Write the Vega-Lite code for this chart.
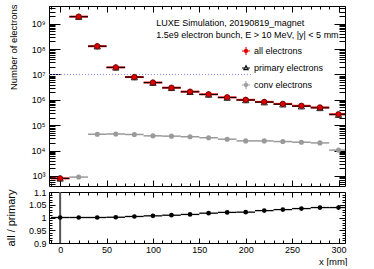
{
  "$schema": "https://vega.github.io/schema/vega-lite/v6.json",
  "background": "white",
  "padding": {"left": 4, "top": 3, "right": 5, "bottom": 0},
  "spacing": 0,
  "config": {
    "font": "Liberation Sans",
    "view": {"stroke": "black", "strokeWidth": 1},
    "axis": {"grid": false, "domain": false, "labelFont": "Liberation Sans", "labelFontSize": 9, "labelColor": "black", "tickColor": "black", "tickWidth": 1, "titleFont": "Liberation Sans", "titleFontWeight": "normal", "titleColor": "black", "labelFlush": false, "labelOverlap": false},
    "legend": {"labelFont": "Liberation Sans", "labelFontSize": 9, "labelColor": "black"}
  },
  "datasets": {
    "pts": [
      {"series": "conv electrons", "x": 20, "x0": 10, "x1": 30, "n": 900},
      {"series": "conv electrons", "x": 40, "x0": 30, "x1": 50, "n": 44000},
      {"series": "conv electrons", "x": 60, "x0": 50, "x1": 70, "n": 45000},
      {"series": "conv electrons", "x": 80, "x0": 70, "x1": 90, "n": 43000},
      {"series": "conv electrons", "x": 100, "x0": 90, "x1": 110, "n": 38000},
      {"series": "conv electrons", "x": 120, "x0": 110, "x1": 130, "n": 37000},
      {"series": "conv electrons", "x": 140, "x0": 130, "x1": 150, "n": 35000},
      {"series": "conv electrons", "x": 160, "x0": 150, "x1": 170, "n": 32000},
      {"series": "conv electrons", "x": 180, "x0": 170, "x1": 190, "n": 28000},
      {"series": "conv electrons", "x": 200, "x0": 190, "x1": 210, "n": 24000},
      {"series": "conv electrons", "x": 220, "x0": 210, "x1": 230, "n": 24000},
      {"series": "conv electrons", "x": 240, "x0": 230, "x1": 250, "n": 22600},
      {"series": "conv electrons", "x": 260, "x0": 250, "x1": 270, "n": 21300},
      {"series": "conv electrons", "x": 280, "x0": 270, "x1": 290, "n": 20000},
      {"series": "conv electrons", "x": 300, "x0": 290, "x1": 310, "n": 10400},
      {"series": "primary electrons", "x": 0, "x0": -10, "x1": 10, "n": 800},
      {"series": "primary electrons", "x": 20, "x0": 10, "x1": 30, "n": 1900000000},
      {"series": "primary electrons", "x": 40, "x0": 30, "x1": 50, "n": 130000000},
      {"series": "primary electrons", "x": 60, "x0": 50, "x1": 70, "n": 19000000},
      {"series": "primary electrons", "x": 80, "x0": 70, "x1": 90, "n": 7870000},
      {"series": "primary electrons", "x": 100, "x0": 90, "x1": 110, "n": 4770000},
      {"series": "primary electrons", "x": 120, "x0": 110, "x1": 130, "n": 2970000},
      {"series": "primary electrons", "x": 140, "x0": 130, "x1": 150, "n": 2070000},
      {"series": "primary electrons", "x": 160, "x0": 150, "x1": 170, "n": 1620000},
      {"series": "primary electrons", "x": 180, "x0": 170, "x1": 190, "n": 1230000},
      {"series": "primary electrons", "x": 200, "x0": 190, "x1": 210, "n": 980000},
      {"series": "primary electrons", "x": 220, "x0": 210, "x1": 230, "n": 810000},
      {"series": "primary electrons", "x": 240, "x0": 230, "x1": 250, "n": 670000},
      {"series": "primary electrons", "x": 260, "x0": 250, "x1": 270, "n": 560000},
      {"series": "primary electrons", "x": 280, "x0": 270, "x1": 290, "n": 480000},
      {"series": "primary electrons", "x": 300, "x0": 290, "x1": 310, "n": 260000},
      {"series": "all electrons", "x": 0, "x0": -10, "x1": 10, "n": 800},
      {"series": "all electrons", "x": 20, "x0": 10, "x1": 30, "n": 1900000000},
      {"series": "all electrons", "x": 40, "x0": 30, "x1": 50, "n": 130000000},
      {"series": "all electrons", "x": 60, "x0": 50, "x1": 70, "n": 19000000},
      {"series": "all electrons", "x": 80, "x0": 70, "x1": 90, "n": 7900000},
      {"series": "all electrons", "x": 100, "x0": 90, "x1": 110, "n": 4800000},
      {"series": "all electrons", "x": 120, "x0": 110, "x1": 130, "n": 3000000},
      {"series": "all electrons", "x": 140, "x0": 130, "x1": 150, "n": 2100000},
      {"series": "all electrons", "x": 160, "x0": 150, "x1": 170, "n": 1650000},
      {"series": "all electrons", "x": 180, "x0": 170, "x1": 190, "n": 1250000},
      {"series": "all electrons", "x": 200, "x0": 190, "x1": 210, "n": 1000000},
      {"series": "all electrons", "x": 220, "x0": 210, "x1": 230, "n": 830000},
      {"series": "all electrons", "x": 240, "x0": 230, "x1": 250, "n": 690000},
      {"series": "all electrons", "x": 260, "x0": 250, "x1": 270, "n": 580000},
      {"series": "all electrons", "x": 280, "x0": 270, "x1": 290, "n": 500000},
      {"series": "all electrons", "x": 300, "x0": 290, "x1": 310, "n": 270000}
    ],
    "ratio": [
      {"x": 0, "x0": -10, "x1": 10, "r": 1.0, "lo": 0.5, "hi": 1.5},
      {"x": 20, "x0": 10, "x1": 30, "r": 1.0, "lo": 1.0, "hi": 1.0},
      {"x": 40, "x0": 30, "x1": 50, "r": 1.0, "lo": 0.999, "hi": 1.001},
      {"x": 60, "x0": 50, "x1": 70, "r": 1.001, "lo": 1.0, "hi": 1.002},
      {"x": 80, "x0": 70, "x1": 90, "r": 1.004, "lo": 1.003, "hi": 1.005},
      {"x": 100, "x0": 90, "x1": 110, "r": 1.0065, "lo": 1.005, "hi": 1.008},
      {"x": 120, "x0": 110, "x1": 130, "r": 1.009, "lo": 1.007, "hi": 1.011},
      {"x": 140, "x0": 130, "x1": 150, "r": 1.012, "lo": 1.01, "hi": 1.014},
      {"x": 160, "x0": 150, "x1": 170, "r": 1.017, "lo": 1.015, "hi": 1.019},
      {"x": 180, "x0": 170, "x1": 190, "r": 1.02, "lo": 1.018, "hi": 1.022},
      {"x": 200, "x0": 190, "x1": 210, "r": 1.021, "lo": 1.018, "hi": 1.024},
      {"x": 220, "x0": 210, "x1": 230, "r": 1.027, "lo": 1.024, "hi": 1.03},
      {"x": 240, "x0": 230, "x1": 250, "r": 1.031, "lo": 1.027, "hi": 1.035},
      {"x": 260, "x0": 250, "x1": 270, "r": 1.035, "lo": 1.03, "hi": 1.04},
      {"x": 280, "x0": 270, "x1": 290, "r": 1.039, "lo": 1.032, "hi": 1.046},
      {"x": 300, "x0": 290, "x1": 310, "r": 1.039, "lo": 1.03, "hi": 1.048}
    ]
  },
  "vconcat": [
    {
      "width": 296,
      "height": 180,
      "resolve": {"axis": {"x": "independent", "y": "independent"}},
      "layer": [
        {
          "data": {"values": [{}]},
          "mark": {"type": "rule", "stroke": "#8c8cf0", "strokeDash": [1, 2], "strokeWidth": 1},
          "encoding": {
            "x": {"datum": -12, "type": "quantitative", "scale": {"domain": [-12, 307], "nice": false, "zero": false}, "axis": null},
            "x2": {"datum": 206},
            "y": {"datum": 10000000, "type": "quantitative", "scale": {"type": "log", "domain": [400, 5000000000], "nice": false}, "axis": null}
          }
        },
        {
          "data": {"name": "pts"},
          "transform": [{"filter": "datum.series === 'conv electrons'"}],
          "mark": {"type": "rule", "stroke": "#9a9a9a", "strokeWidth": 1.5, "clip": true},
          "encoding": {
            "x": {"field": "x0", "type": "quantitative", "scale": {"domain": [-12, 307], "nice": false, "zero": false},
              "axis": {"orient": "bottom", "values": [0, 50, 100, 150, 200, 250, 300], "labels": false, "tickSize": -6, "title": null}},
            "x2": {"field": "x1"},
            "y": {"field": "n", "type": "quantitative", "scale": {"type": "log", "domain": [400, 5000000000], "nice": false},
              "axis": {"orient": "left", "values": [1000, 10000, 100000, 1000000, 10000000, 100000000, 1000000000], "tickSize": -11, "labelPadding": 15,
                "labelExpr": "'10' + ['⁰','¹','²','³','⁴','⁵','⁶','⁷','⁸','⁹'][round(log(datum.value)/LN10)]",
                "title": "Number of electrons", "titleFontSize": 9.5, "titleX": -36, "titleY": -2, "titleAlign": "right", "titleBaseline": "middle", "titleAngle": -90}}
          }
        },
        {
          "data": {"name": "pts"},
          "transform": [{"filter": "datum.series === 'conv electrons'"}],
          "mark": {"type": "point", "shape": "circle", "filled": true, "fill": "#9a9a9a", "size": 26, "opacity": 1, "clip": true},
          "encoding": {
            "x": {"field": "x", "type": "quantitative", "scale": {"domain": [-12, 307], "nice": false, "zero": false},
              "axis": {"orient": "bottom", "values": [-10, 10, 20, 30, 40, 60, 70, 80, 90, 110, 120, 130, 140, 160, 170, 180, 190, 210, 220, 230, 240, 260, 270, 280, 290], "labels": false, "tickSize": -3, "title": null}},
            "y": {"field": "n", "type": "quantitative", "scale": {"type": "log", "domain": [400, 5000000000], "nice": false},
              "axis": {"orient": "left", "values": [500, 600, 700, 800, 900, 2000, 3000, 4000, 5000, 6000, 7000, 8000, 9000, 20000, 30000, 40000, 50000, 60000, 70000, 80000, 90000, 200000, 300000, 400000, 500000, 600000, 700000, 800000, 900000, 2000000, 3000000, 4000000, 5000000, 6000000, 7000000, 8000000, 9000000, 20000000, 30000000, 40000000, 50000000, 60000000, 70000000, 80000000, 90000000, 200000000, 300000000, 400000000, 500000000, 600000000, 700000000, 800000000, 900000000, 2000000000, 3000000000, 4000000000, 5000000000], "labels": false, "tickSize": -6, "title": null}}
          }
        },
        {
          "data": {"name": "pts"},
          "transform": [{"filter": "datum.series === 'all electrons'"}],
          "mark": {"type": "rule", "stroke": "#e00000", "strokeWidth": 2, "clip": true},
          "encoding": {
            "x": {"field": "x0", "type": "quantitative", "scale": {"domain": [-12, 307], "nice": false, "zero": false}, "axis": null},
            "x2": {"field": "x1"},
            "y": {"field": "n", "type": "quantitative", "scale": {"type": "log", "domain": [400, 5000000000], "nice": false}, "axis": null}
          }
        },
        {
          "data": {"name": "pts"},
          "transform": [{"filter": "datum.series === 'primary electrons'"}],
          "mark": {"type": "rule", "stroke": "black", "strokeWidth": 1, "clip": true},
          "encoding": {
            "x": {"field": "x0", "type": "quantitative", "scale": {"domain": [-12, 307], "nice": false, "zero": false},
              "axis": {"orient": "top", "values": [0, 50, 100, 150, 200, 250, 300], "labels": false, "tickSize": -6, "title": null}},
            "x2": {"field": "x1"},
            "y": {"field": "n", "type": "quantitative", "scale": {"type": "log", "domain": [400, 5000000000], "nice": false},
              "axis": {"orient": "right", "values": [1000, 10000, 100000, 1000000, 10000000, 100000000, 1000000000], "labels": false, "tickSize": -11, "title": null}}
          }
        },
        {
          "data": {"name": "pts"},
          "transform": [{"filter": "datum.series === 'primary electrons'"}],
          "mark": {"type": "point", "shape": "triangle-up", "filled": false, "stroke": "#222222", "strokeWidth": 1, "size": 40, "opacity": 1, "clip": true},
          "encoding": {
            "x": {"field": "x", "type": "quantitative", "scale": {"domain": [-12, 307], "nice": false, "zero": false},
              "axis": {"orient": "top", "values": [-10, 10, 20, 30, 40, 60, 70, 80, 90, 110, 120, 130, 140, 160, 170, 180, 190, 210, 220, 230, 240, 260, 270, 280, 290], "labels": false, "tickSize": -3, "title": null}},
            "y": {"field": "n", "type": "quantitative", "scale": {"type": "log", "domain": [400, 5000000000], "nice": false},
              "axis": {"orient": "right", "values": [500, 600, 700, 800, 900, 2000, 3000, 4000, 5000, 6000, 7000, 8000, 9000, 20000, 30000, 40000, 50000, 60000, 70000, 80000, 90000, 200000, 300000, 400000, 500000, 600000, 700000, 800000, 900000, 2000000, 3000000, 4000000, 5000000, 6000000, 7000000, 8000000, 9000000, 20000000, 30000000, 40000000, 50000000, 60000000, 70000000, 80000000, 90000000, 200000000, 300000000, 400000000, 500000000, 600000000, 700000000, 800000000, 900000000, 2000000000, 3000000000, 4000000000, 5000000000], "labels": false, "tickSize": -6, "title": null}}
          }
        },
        {
          "data": {"name": "pts"},
          "transform": [{"filter": "datum.series === 'all electrons'"}],
          "mark": {"type": "point", "shape": "circle", "filled": true, "fill": "#dd0000", "stroke": "#5a0000", "strokeWidth": 0.8, "size": 30, "opacity": 1, "clip": true},
          "encoding": {
            "x": {"field": "x", "type": "quantitative", "scale": {"domain": [-12, 307], "nice": false, "zero": false}, "axis": null},
            "y": {"field": "n", "type": "quantitative", "scale": {"type": "log", "domain": [400, 5000000000], "nice": false}, "axis": null}
          }
        },
        {
          "data": {"values": [{"t": "LUXE Simulation, 20190819_magnet"}]},
          "mark": {"type": "text", "align": "left", "baseline": "middle", "fontSize": 9, "font": "Liberation Sans", "color": "black", "clip": true},
          "encoding": {
            "x": {"datum": 103.5, "type": "quantitative", "axis": null},
            "y": {"datum": 1070000000, "type": "quantitative", "axis": null},
            "text": {"field": "t"}
          }
        },
        {
          "data": {"values": [{"t": "1.5e9 electron bunch, E > 10 MeV, |y| < 5 mm"}]},
          "mark": {"type": "text", "align": "left", "baseline": "middle", "fontSize": 9, "font": "Liberation Sans", "color": "black", "clip": true},
          "encoding": {
            "x": {"datum": 103.5, "type": "quantitative", "axis": null},
            "y": {"datum": 370000000, "type": "quantitative", "axis": null},
            "text": {"field": "t"}
          }
        },
        {
          "data": {"name": "pts"},
          "transform": [{"filter": "datum.x < -1000"}],
          "mark": {"type": "point", "opacity": 1},
          "encoding": {
            "x": {"field": "x", "type": "quantitative", "axis": null},
            "y": {"field": "n", "type": "quantitative", "axis": null},
            "shape": {"field": "series", "type": "nominal",
              "scale": {"domain": ["all electrons", "primary electrons", "conv electrons"],
                "range": ["M-1,0H1M0,-1V1M-0.4,0A0.4,0.4,0,1,0,0.4,0A0.4,0.4,0,1,0,-0.4,0Z", "M-1,0H1M0,-0.6L0.55,0.4L-0.55,0.4Z", "M-1,0H1M0,-1V1M-0.4,0A0.4,0.4,0,1,0,0.4,0A0.4,0.4,0,1,0,-0.4,0Z"]},
              "legend": {"orient": "none", "legendX": 192, "legendY": 40, "title": null, "padding": 0, "rowPadding": 5, "symbolSize": 64, "symbolStrokeWidth": 1.1, "labelFontSize": 9, "labelOffset": 3, "symbolOpacity": 1}},
            "stroke": {"field": "series", "type": "nominal",
              "scale": {"domain": ["all electrons", "primary electrons", "conv electrons"], "range": ["#e00000", "#111111", "#a0a0a0"]}},
            "fill": {"field": "series", "type": "nominal",
              "scale": {"domain": ["all electrons", "primary electrons", "conv electrons"], "range": ["#e00000", "#ffffff", "#a0a0a0"]}}
          }
        }
      ]
    },
    {
      "width": 296,
      "height": 51,
      "data": {"name": "ratio"},
      "resolve": {"axis": {"x": "independent", "y": "independent"}},
      "layer": [
        {
          "transform": [{"filter": "datum.x === 0"}],
          "mark": {"type": "rule", "stroke": "#555555", "strokeWidth": 2, "clip": true},
          "encoding": {
            "x": {"field": "x", "type": "quantitative", "scale": {"domain": [-12, 307], "nice": false, "zero": false},
              "axis": {"orient": "top", "values": [-10, 10, 20, 30, 40, 60, 70, 80, 90, 110, 120, 130, 140, 160, 170, 180, 190, 210, 220, 230, 240, 260, 270, 280, 290], "labels": false, "tickSize": -3, "title": null}},
            "y": {"field": "lo", "type": "quantitative", "scale": {"domain": [0.9, 1.1], "nice": false, "zero": false},
              "axis": {"orient": "right", "values": [0.91, 0.92, 0.93, 0.94, 0.96, 0.97, 0.98, 0.99, 1.01, 1.02, 1.03, 1.04, 1.06, 1.07, 1.08, 1.09], "labels": false, "tickSize": -3, "title": null}},
            "y2": {"field": "hi"}
          }
        },
        {
          "transform": [{"filter": "datum.x > 0"}],
          "mark": {"type": "rule", "stroke": "black", "strokeWidth": 1, "clip": true},
          "encoding": {
            "x": {"field": "x", "type": "quantitative", "scale": {"domain": [-12, 307], "nice": false, "zero": false},
              "axis": {"orient": "top", "values": [0, 50, 100, 150, 200, 250, 300], "labels": false, "tickSize": -5, "title": null}},
            "y": {"field": "lo", "type": "quantitative", "scale": {"domain": [0.9, 1.1], "nice": false, "zero": false},
              "axis": {"orient": "right", "values": [0.9, 0.95, 1, 1.05, 1.1], "labels": false, "tickSize": -6, "title": null}},
            "y2": {"field": "hi"}
          }
        },
        {
          "mark": {"type": "rule", "stroke": "black", "strokeWidth": 1.3, "clip": true},
          "encoding": {
            "x": {"field": "x0", "type": "quantitative", "scale": {"domain": [-12, 307], "nice": false, "zero": false},
              "axis": {"orient": "bottom", "values": [0, 50, 100, 150, 200, 250, 300], "tickSize": -5, "labelPadding": 7,
                "title": "x [mm]", "titleFontSize": 9.5, "titleX": 298, "titleY": 18, "titleAlign": "right", "titleBaseline": "middle"}},
            "x2": {"field": "x1"},
            "y": {"field": "r", "type": "quantitative", "scale": {"domain": [0.9, 1.1], "nice": false, "zero": false},
              "axis": {"orient": "left", "values": [0.9, 0.95, 1, 1.05, 1.1], "format": ".2~f", "tickSize": -6, "labelPadding": 9,
                "title": "all / primary", "titleFontSize": 11, "titleX": -38, "titleY": 25.5, "titleAlign": "center", "titleBaseline": "middle", "titleAngle": -90}}
          }
        },
        {
          "mark": {"type": "point", "shape": "circle", "filled": true, "fill": "black", "size": 22, "opacity": 1, "clip": true},
          "encoding": {
            "x": {"field": "x", "type": "quantitative", "scale": {"domain": [-12, 307], "nice": false, "zero": false},
              "axis": {"orient": "bottom", "values": [-10, 10, 20, 30, 40, 60, 70, 80, 90, 110, 120, 130, 140, 160, 170, 180, 190, 210, 220, 230, 240, 260, 270, 280, 290], "labels": false, "tickSize": -3, "title": null}},
            "y": {"field": "r", "type": "quantitative", "scale": {"domain": [0.9, 1.1], "nice": false, "zero": false},
              "axis": {"orient": "left", "values": [0.91, 0.92, 0.93, 0.94, 0.96, 0.97, 0.98, 0.99, 1.01, 1.02, 1.03, 1.04, 1.06, 1.07, 1.08, 1.09], "labels": false, "tickSize": -3, "title": null}}
          }
        }
      ]
    }
  ]
}
